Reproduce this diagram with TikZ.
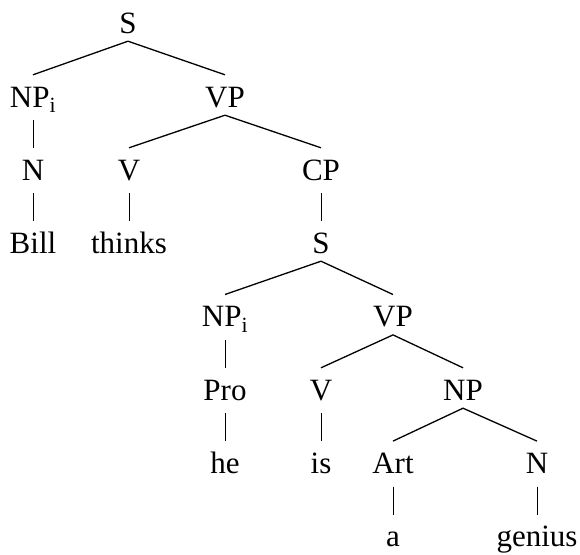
\documentclass[tikz,border=0pt]{standalone}
\usepackage{fontspec}
\setmainfont{Liberation Serif}
\begin{document}
\begin{tikzpicture}[x=1pt,y=-1pt,
  lab/.style={anchor=base,inner xsep=0pt,inner ysep=3pt,text height=29pt,text depth=5pt,font=\fontsize{31}{37}\selectfont},
  br/.style={line width=1.3pt},
  bar/.style={line width=0.9pt,shorten <=5pt}]
\useasboundingbox (0,0) rectangle (580,554);
% rows: 33, 107, 180, 253, 326.7, 400, 473.3, 546.7
\node[lab] (s1) at (128,33) {S};
\node[lab] (npi1) at (33,107) {NP\textsubscript{i}};
\node[lab] (vp1) at (225,107) {VP};
\node[lab] (n1) at (33,180) {N};
\node[lab] (v1) at (129,180) {V};
\node[lab] (cp) at (321,180) {CP};
\node[lab] (bill) at (33,253) {Bill};
\node[lab] (thinks) at (129,253) {thinks};
\node[lab] (s2) at (321,253) {S};
\node[lab] (npi2) at (225,326.7) {NP\textsubscript{i}};
\node[lab] (vp2) at (393,326.7) {VP};
\node[lab] (pro) at (225,400) {Pro};
\node[lab] (v2) at (321,400) {V};
\node[lab] (np3) at (463,400) {NP};
\node[lab] (he) at (225,473.3) {he};
\node[lab] (is) at (321,473.3) {is};
\node[lab] (art) at (393,473.3) {Art};
\node[lab] (n3) at (537,473.3) {N};
\node[lab] (a) at (393,546.7) {a};
\node[lab] (genius) at (537,546.7) {genius};
% branches
\draw[br] (npi1.north) -- (s1.south) -- (vp1.north);
\draw[br] (v1.north) -- (vp1.south) -- (cp.north);
\draw[br] (npi2.north) -- (s2.south) -- (vp2.north);
\draw[br] (v2.north) -- (vp2.south) -- (np3.north);
\draw[br] (art.north) -- (np3.south) -- (n3.north);
% bars
\draw[bar] (npi1.south) -- (n1.north);
\draw[bar] (n1.south) -- (bill.north);
\draw[bar] (v1.south) -- (thinks.north);
\draw[bar] (cp.south) -- (s2.north);
\draw[bar] (npi2.south) -- (pro.north);
\draw[bar] (pro.south) -- (he.north);
\draw[bar] (v2.south) -- (is.north);
\draw[bar] (art.south) -- (a.north);
\draw[bar] (n3.south) -- (genius.north);
\end{tikzpicture}
\end{document}
